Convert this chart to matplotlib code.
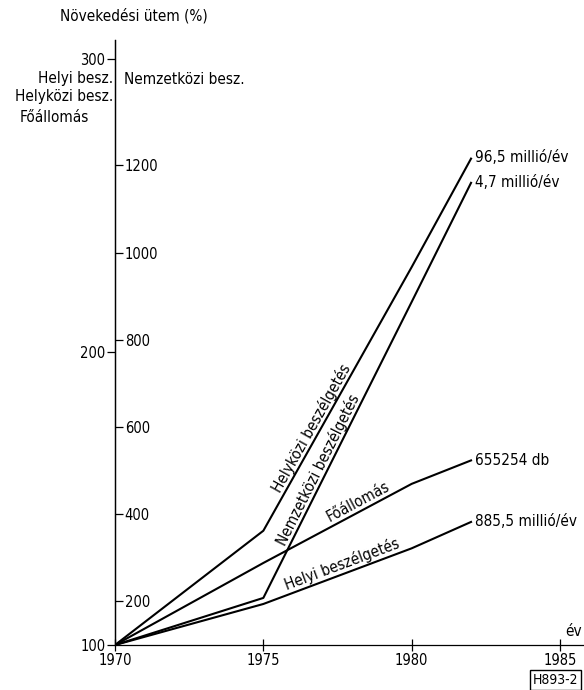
import matplotlib
matplotlib.use("Agg")
import matplotlib.pyplot as plt

plt.rcParams["font.family"] = ["DejaVu Sans"]
plt.rcParams["font.stretch"] = "condensed"
plt.rcParams["font.size"] = 11

# growth index (1970 = 100 %)
years = [1970, 1975, 1980, 1982]
helykozi = [100, 139, 229, 266]      # left scale
foallomas = [100, 128, 155, 163]     # left scale
helyi = [100, 114, 133, 142]         # left scale
nemzetkozi = [100, 208, 887, 1160]   # right (inner) scale

left_ticks = [100, 200, 300]
right_ticks = [200, 400, 600, 800, 1000, 1200]
x_ticks = [1970, 1975, 1980, 1985]

W, H = 584, 690
fig = plt.figure(figsize=(W / 100, H / 100), dpi=100)

def fx(px):
    return px / W

def fy(py):
    return 1 - py / H

ax = fig.add_axes([fx(115), fy(645), (W - 115) / W, (645 - 40) / H])
ax.set_xlim(1970, 1970 + (W - 115) / 29.67)
ax.set_ylim(100, 100 + 605 / 2.93)

ax2 = ax.twinx()
ax2.set_ylim(100, 100 + 605 / 0.436)

for s in ["top", "right"]:
    ax.spines[s].set_visible(False)
for s in ["top", "left", "bottom"]:
    ax2.spines[s].set_visible(False)
ax2.spines["right"].set_position(("axes", 0))
for sp in [ax.spines["left"], ax.spines["bottom"], ax2.spines["right"]]:
    sp.set_linewidth(0.9)

ax.set_xticks(x_ticks)
ax.tick_params(axis="x", direction="inout", length=8, width=0.9, pad=2, labelsize=10.5)
ax.set_yticks(left_ticks)
ax.tick_params(axis="y", direction="out", length=6, width=0.9, pad=1, labelsize=10.5)
ax2.set_yticks(right_ticks)
ax2.tick_params(axis="y", direction="out", length=6, width=0.9, pad=1, labelsize=10.5)

lw = 1.5
ax.plot(years, helykozi, color="black", lw=lw)
ax.plot(years, foallomas, color="black", lw=lw)
ax.plot(years, helyi, color="black", lw=lw)
ax2.plot(years, nemzetkozi, color="black", lw=lw)

# labels sitting on the lines
kw = dict(ha="center", va="bottom", rotation_mode="anchor")
ax.text(1976.87, 172.7, "Helyközi beszélgetés", rotation=60.6, **kw)
ax2.text(1977.1, 493, "Nemzetközi beszélgetés", rotation=63.4, **kw)
ax.text(1978.32, 146.5, "Főállomás", rotation=28.1, **kw)
ax.text(1977.75, 125.0, "Helyi beszélgetés", rotation=20.6, **kw)

# end values
ax.annotate("96,5 millió/év", xy=(years[-1], helykozi[-1]), xytext=(3, 1),
            textcoords="offset points", va="center", ha="left")
ax2.annotate("4,7 millió/év", xy=(years[-1], nemzetkozi[-1]), xytext=(3, 0),
             textcoords="offset points", va="center", ha="left")
ax.annotate("655254 db", xy=(years[-1], foallomas[-1]), xytext=(3, 0),
            textcoords="offset points", va="center", ha="left")
ax.annotate("885,5 millió/év", xy=(years[-1], helyi[-1]), xytext=(3, 0),
            textcoords="offset points", va="center", ha="left")

# axis captions
fig.text(fx(60), fy(16), "Növekedési ütem (%)", va="center", ha="left")
fig.text(fx(113), fy(78), "Helyi besz.", va="center", ha="right")
fig.text(fx(113), fy(97), "Helyközi besz.", va="center", ha="right")
fig.text(fx(20), fy(117), "Főállomás", va="center", ha="left")
fig.text(fx(124), fy(80), "Nemzetközi besz.", va="center", ha="left")
fig.text(fx(565), fy(632), "év", va="center", ha="left")
fig.text(fx(533), fy(680), "H893-2", va="center", ha="left", fontsize=10,
         bbox=dict(boxstyle="square,pad=0.2", fc="white", ec="black", lw=1.0))

fig.savefig("out.png", dpi=100)
